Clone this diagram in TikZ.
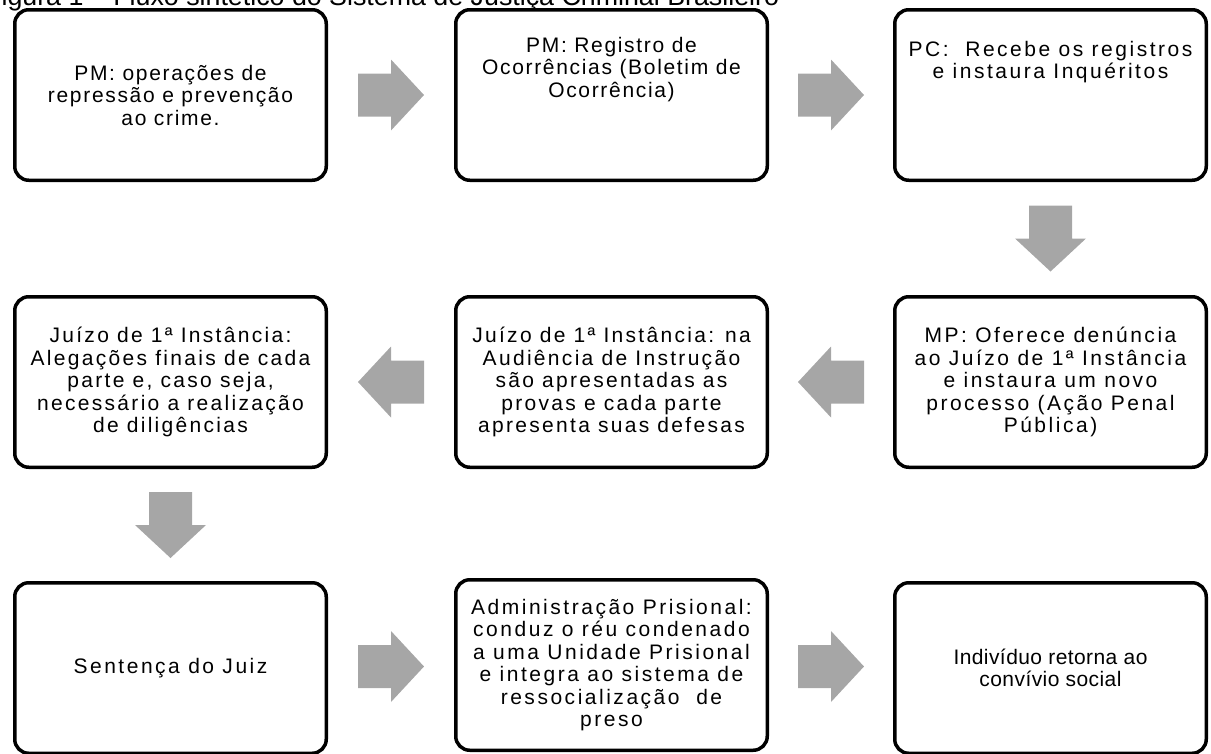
\documentclass[tikz,border=0pt]{standalone}
\usepackage{fontspec}
\setmainfont{Liberation Sans}
\usetikzlibrary{calc}

\definecolor{arrowgray}{RGB}{166,166,166}

\tikzset{
    stage/.style={draw, line width=3.5pt, rounded corners=14pt,
        minimum width=311.5pt, minimum height=170.5pt, align=center,
        inner sep=0pt, font=\fontsize{21}{22.5}\selectfont},
    spaced/.style={font=\fontsize{21}{22.5}\selectfont\addfontfeature{LetterSpace=#1}},
    flowarrow/.pic={
        \fill[arrowgray] (-33,-21.5) -- (0,-21.5) -- (0,-35.5) -- (33,0)
            -- (0,35.5) -- (0,21.5) -- (-33,21.5) -- cycle;
    }
}

\begin{document}
\begin{tikzpicture}[x=1pt, y=-1pt]
    \useasboundingbox (0,0) rectangle (1211,753);
    \clip (0,0) rectangle (1211,753);

    %% Caption (cut off at the top)
    \node[anchor=base west, inner sep=0pt, font=\fontsize{26.8}{26.8}\selectfont] (caption) at (-15,5.5)
        {Figura 1 – Fluxo sintético do Sistema de Justiça Criminal Brasileiro};

    %% First row
    \node[stage, spaced=8] (pmops) at (170.5,95) {PM: operações de\\repressão e prevenção\\ao crime.};
    \node[stage, spaced=8, text depth=56pt] (pmreg) at (611.5,95) {PM: Registro de\\Ocorrências (Boletim de\\Ocorrência)};
    \node[stage, spaced=12, text depth=70pt] (pcinq) at (1050.5,95) {PC: \ Recebe os registros\\e instaura Inquéritos};

    %% Second row
    \node[stage, spaced=11] (juizofinal) at (170.5,382) {Juízo de 1ª Instância:\\Alegações finais de cada\\parte e, caso seja,\\necessário a realização\\de diligências};
    \node[stage, spaced=11] (juizoaud) at (611.5,382) {Juízo de 1ª Instância: na\\Audiência de Instrução\\são apresentadas as\\provas e cada parte\\apresenta suas defesas};
    \node[stage, spaced=12] (mpden) at (1050.5,382) {MP: Oferece denúncia\\ao Juízo de 1ª Instância\\e instaura um novo\\processo (Ação Penal\\Pública)};

    %% Third row
    \node[stage, spaced=12] (sentenca) at (170.5,668) {Sentença do Juiz};
    \node[stage, spaced=12] (prisional) at (611.5,665) {Administração Prisional:\\conduz o réu condenado\\a uma Unidade Prisional\\e integra ao sistema de\\ressocialização \ de\\preso};
    \node[stage, spaced=2] (retorno) at (1050.5,668) {Indivíduo retorna ao\\convívio social};

    %% Arrows
    \pic at ($(pmops.east)!0.5!(pmreg.west)$) {flowarrow};
    \pic at ($(pmreg.east)!0.5!(pcinq.west)$) {flowarrow};
    \pic[rotate=-90] at ($(pcinq.south)!0.5!(mpden.north)$) {flowarrow};
    \pic[rotate=180] at ($(mpden.west)!0.5!(juizoaud.east)$) {flowarrow};
    \pic[rotate=180] at ($(juizoaud.west)!0.5!(juizofinal.east)$) {flowarrow};
    \pic[rotate=-90] at ($(juizofinal.south)!0.5!(sentenca.north)$) {flowarrow};
    \pic at ($(sentenca.east)!0.5!(prisional.west)$) {flowarrow};
    \pic at ($(prisional.east)!0.5!(retorno.west)$) {flowarrow};

\end{tikzpicture}
\end{document}
